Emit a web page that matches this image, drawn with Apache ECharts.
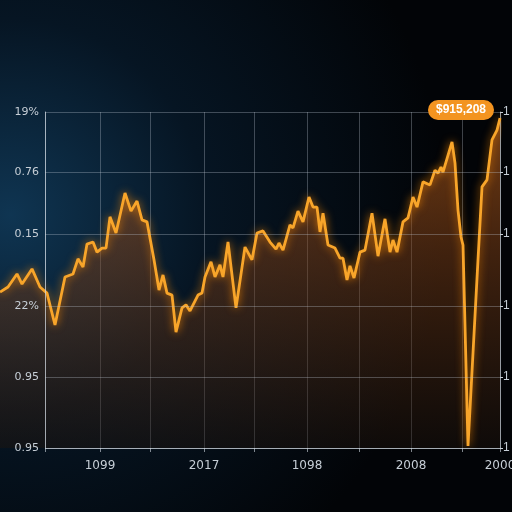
<!DOCTYPE html>
<html>
<head>
<meta charset="utf-8">
<script src="https://cdn.jsdelivr.net/npm/echarts@6/dist/echarts.min.js"></script>
<style>
  html, body { margin: 0; padding: 0; background: #03070c; }
  #chart { width: 512px; height: 512px; }
</style>
</head>
<body>
<div id="chart"></div>
<script>
// position along the time axis (axis units) and the line's value (0..100 scale)
const xs = [-9, -7.4, -5.6, -4.6, -2.6, -1, 0.4, 2, 4, 5.6, 6.6, 7.6, 8.4, 9.6, 10.4, 11.4, 12.2, 13, 14.2, 16,
  17.2, 18.4, 19.4, 20.4, 21.8, 22.8, 23.6, 24.4, 25.4, 26.2, 27.4, 28.2, 29, 30.6, 31.4, 32, 33.2, 34, 35, 35.6,
  36.6, 38.2, 40, 41.4, 42.4, 43.6, 45, 46.2, 46.8, 47.6, 49, 49.6, 50.6, 51.6, 52.8, 53.6, 54.4, 55, 55.6, 56.6,
  58, 59, 59.6, 60.4, 61, 61.8, 63, 64, 65.4, 66.6, 68, 69, 69.6, 70.4, 71.6, 72.6, 73.6, 74.4, 75.6, 77,
  78, 78.6, 79.2, 79.6, 81.4, 82, 82.6, 83.2, 83.6, 84.6, 86.6, 87.4, 88.4, 89.4, 90.4, 91]
const values = [46.4, 47.9, 51.8, 48.8, 53.3, 47.9, 46.1, 36.6, 50.9, 51.8, 56.3, 53.9, 60.7, 61.3, 58.3, 59.5, 59.5, 68.8, 64.0, 75.9,
  70.5, 73.5, 67.9, 67.3, 56.0, 47.0, 51.5, 46.1, 45.5, 34.5, 41.7, 42.6, 40.8, 45.5, 46.1, 50.9, 55.4, 50.9, 54.5, 50.9,
  61.3, 41.7, 59.8, 56.0, 64.0, 64.6, 61.3, 59.2, 61.0, 58.9, 66.4, 65.5, 70.5, 67.3, 74.7, 71.7, 71.7, 64.3, 69.9, 60.4,
  59.5, 56.5, 56.5, 50.0, 54.2, 50.6, 58.3, 58.9, 69.9, 57.1, 68.2, 58.3, 61.9, 58.3, 67.3, 68.5, 74.7, 71.7, 79.2, 78.3,
  82.7, 81.8, 83.6, 82.1, 91.1, 84.8, 70.8, 62.8, 60.4, 0.6, 56.0, 77.7, 79.8, 91.7, 94.6, 98.2]

const xTicks = [0, 11, 21, 31.8, 41.8, 52.4, 62.8, 73.2, 83.4, 91]
const xLabelTicks = [11, 31.8, 52.4, 73.2, 91]
const xTickLabels = ['1099', '2017', '1098', '2008', '2000']
const yTicks = [0, 21.1, 42.3, 63.7, 82.1, 100]
const yTickLabels = ['0.95', '0.95', '22%', '0.15', '0.76', '19%']
const calloutText = '$915,208'

const labelColor = '#c6ced6'
const gridColor = 'rgba(190,200,212,0.32)'
const axisColor = 'rgba(210,218,226,0.7)'

const chart = echarts.init(document.getElementById('chart'))
chart.setOption({
  animation: false,
  backgroundColor: {
    type: 'radial', x: 0.02, y: 0.42, r: 0.85,
    colorStops: [
      { offset: 0, color: '#0f3552' },
      { offset: 0.45, color: '#061523' },
      { offset: 1, color: '#020407' }
    ]
  },
  grid: { left: 0, right: 12, top: 112, bottom: 64, outerBoundsMode: 'none' },
  xAxis: {
    type: 'value', min: -9, max: 91,
    axisLine: { show: false },
    axisTick: { show: true, customValues: xTicks, length: 4, lineStyle: { color: 'rgba(210,218,226,0.6)' } },
    splitLine: { show: true, lineStyle: { color: gridColor, width: 1 } },
    axisLabel: {
      customValues: xLabelTicks,
      color: labelColor, fontSize: 12, margin: 12, fontFamily: 'DejaVu Sans',
      formatter: v => {
        const i = xLabelTicks.findIndex(t => Math.abs(t - v) < 0.01)
        return i < 0 ? '' : xTickLabels[i]
      }
    }
  },
  yAxis: [{
    type: 'value', min: 0, max: 100, position: 'left', offset: -45, z: 5,
    axisLine: { show: true, onZero: false, lineStyle: { color: axisColor, width: 1 } },
    axisTick: { show: false, customValues: yTicks },
    splitLine: { show: false },
    axisLabel: {
      customValues: yTicks, color: labelColor, fontSize: 11, margin: 6, fontFamily: 'DejaVu Sans',
      formatter: v => {
        const i = yTicks.findIndex(t => Math.abs(t - v) < 0.01)
        return i < 0 ? '' : yTickLabels[i]
      }
    }
  }, {
    type: 'value', min: 0, max: 100, position: 'right',
    axisLine: { show: true, onZero: false, lineStyle: { color: 'rgba(210,218,226,0.6)', width: 1 } },
    axisTick: { show: true, customValues: yTicks, length: 3, lineStyle: { color: labelColor } },
    splitLine: { show: false },
    axisLabel: { customValues: yTicks, color: labelColor, fontSize: 12, margin: 3, formatter: () => '1' }
  }],
  series: [{
    type: 'line',
    symbol: 'none',
    z: 2,
    data: xs.map((x, i) => [x, values[i]]),
    lineStyle: { color: '#f8a52a', width: 2.8, shadowBlur: 8, shadowColor: 'rgba(255,140,0,0.8)' },
    areaStyle: {
      color: {
        type: 'linear', x: 0, y: 0, x2: 0, y2: 1,
        colorStops: [
          { offset: 0, color: 'rgba(205,105,28,0.8)' },
          { offset: 0.4, color: 'rgba(130,65,22,0.7)' },
          { offset: 1, color: 'rgba(32,20,12,0.6)' }
        ]
      }
    },
    markLine: {
      silent: true, symbol: 'none', label: { show: false },
      lineStyle: { color: gridColor, width: 1, type: 'solid' },
      data: yTicks.map(v => [{ coord: [0, v] }, { coord: [91, v] }])
    },
    markPoint: {
      symbol: 'rect', symbolSize: 0,
      data: [{ coord: [xs[xs.length - 1], values[values.length - 1]] }],
      label: {
        show: true, position: 'inside', offset: [-39, -8],
        formatter: calloutText,
        color: '#fff', fontSize: 12, fontWeight: 'bold', fontFamily: 'Liberation Sans',
        backgroundColor: '#f39420', borderRadius: 10, padding: [4, 8]
      }
    }
  }, {
    // bottom axis line, starting at the left axis
    type: 'line',
    data: [],
    z: 3,
    markLine: {
      silent: true, symbol: 'none', label: { show: false },
      lineStyle: { color: axisColor, width: 1, type: 'solid' },
      data: [[{ coord: [0, yTicks[0]] }, { coord: [91, yTicks[0]] }]]
    }
  }]
})
</script>
</body>
</html>
